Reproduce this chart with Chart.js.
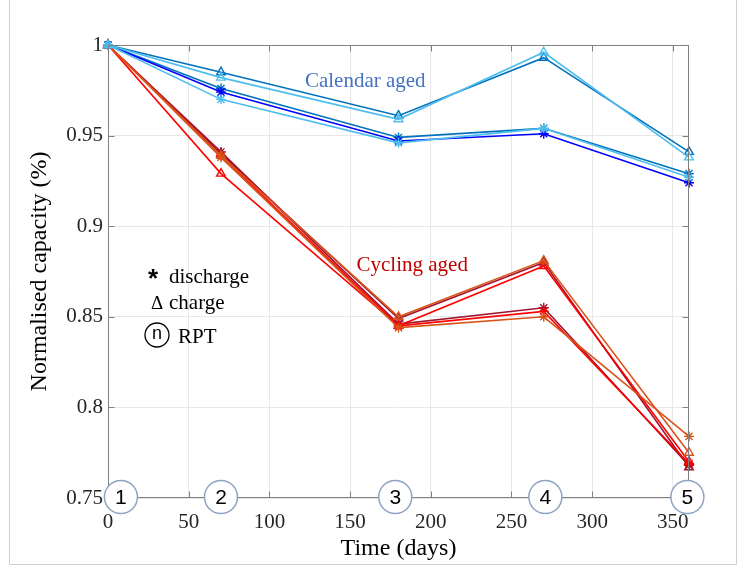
<!DOCTYPE html>
<html><head><meta charset="utf-8">
<script src="https://cdn.jsdelivr.net/npm/chart.js@4.4.1/dist/chart.umd.min.js"></script>
<style>html,body{margin:0;padding:0;background:#fff}#wrap{width:747px;height:570px;position:relative}</style>
</head><body><div id="wrap"><canvas id="c" width="747" height="570"></canvas></div>
<script>
// ---- data ----
const days = [0, 70, 180, 270, 360];
const xTicks = [0, 50, 100, 150, 200, 250, 300, 350];
const yTicks = [0.75, 0.8, 0.85, 0.9, 0.95, 1];
const yTickLabels = ['0.75', '0.8', '0.85', '0.9', '0.95', '1'];
const rptDays = [8, 70, 178, 271, 359];
const rptLabels = ['1', '2', '3', '4', '5'];

// calendar aged
const calCharge1 = [1, 0.985, 0.961, 0.993, 0.941];
const calCharge2 = [1, 0.982, 0.959, 0.996, 0.938];
const calDis1 = [1, 0.976, 0.949, 0.954, 0.929];
const calDis2 = [1, 0.974, 0.947, 0.951, 0.924];
const calDis3 = [1, 0.970, 0.946, 0.954, 0.927];
// cycling aged
const cycCharge1 = [1, 0.939, 0.850, 0.881, 0.775];
const cycCharge2 = [1, 0.929, 0.845, 0.878, 0.770];
const cycCharge3 = [1, 0.940, 0.849, 0.880, 0.767];
const cycDis1 = [1, 0.941, 0.846, 0.855, 0.768];
const cycDis2 = [1, 0.939, 0.845, 0.853, 0.769];
const cycDis3 = [1, 0.938, 0.844, 0.850, 0.784];

const textNotes = [
  {text: 'Calendar aged', day: 122, val: 0.9768, color: '#4472C4'},
  {text: 'Cycling aged', day: 154, val: 0.8753, color: '#C00000'}
];

const SERIF = "'Liberation Serif','Times New Roman',serif";
const SANS = "'Liberation Sans',Arial,sans-serif";

function ds(arr, color, style) {
  return {
    data: days.map((d, i) => ({x: d, y: arr[i]})),
    borderColor: color,
    backgroundColor: 'rgba(0,0,0,0)',
    pointBorderColor: color,
    pointBackgroundColor: 'rgba(0,0,0,0)',
    pointStyle: style,
    pointRadius: 5,
    pointBorderWidth: 1.4,
    borderWidth: 1.6,
    tension: 0,
    clip: false
  };
}

const datasets = [
  ds(calCharge2, '#4DBEEE', 'triangle'),
  ds(calDis3, '#4DBEEE', 'star'),
  ds(calDis2, '#0000FF', 'star'),
  ds(calDis1, '#0072BD', 'star'),
  ds(calCharge1, '#0072BD', 'triangle'),
  ds(cycDis3, '#D95319', 'star'),
  ds(cycCharge1, '#D95319', 'triangle'),
  ds(cycCharge2, '#FF0000', 'triangle'),
  ds(cycDis2, '#FF0000', 'star'),
  ds(cycCharge3, '#A2142F', 'triangle'),
  ds(cycDis1, '#A2142F', 'star')
];

function line(ctx, x1, y1, x2, y2) {
  ctx.beginPath(); ctx.moveTo(x1, y1); ctx.lineTo(x2, y2); ctx.stroke();
}

const overlay = {
  id: 'overlay',
  afterDatasetsDraw(chart) {
    const {ctx, chartArea: a, scales: {x, y}} = chart;
    ctx.save();
    // axes box
    ctx.strokeStyle = '#808080'; ctx.lineWidth = 1;
    const L = Math.round(a.left) + 0.5, R = Math.round(a.right) - 0.5;
    const T = Math.round(a.top) + 0.5, B = Math.round(a.bottom) - 0.5;
    ctx.strokeRect(L, T, R - L, B - T);
    // inward ticks
    xTicks.forEach(v => {
      const px = Math.round(x.getPixelForValue(v)) + 0.5;
      line(ctx, px, B, px, B - 6); line(ctx, px, T, px, T + 6);
    });
    yTicks.forEach(v => {
      const py = Math.round(y.getPixelForValue(v)) + 0.5;
      line(ctx, L, py, L + 6, py); line(ctx, R, py, R - 6, py);
    });
    // RPT circles
    const cy = y.getPixelForValue(0.75) - 1;
    rptDays.forEach((d, i) => {
      const cx = x.getPixelForValue(d);
      ctx.beginPath(); ctx.arc(cx, cy, 16.5, 0, Math.PI * 2);
      ctx.fillStyle = '#fff'; ctx.fill();
      ctx.strokeStyle = '#8FA3C4'; ctx.lineWidth = 1.5; ctx.stroke();
      ctx.fillStyle = '#000'; ctx.font = '21px ' + SANS;
      ctx.textAlign = 'center'; ctx.textBaseline = 'middle';
      ctx.fillText(rptLabels[i], cx, cy + 1);
    });
    // annotations
    ctx.textAlign = 'left'; ctx.textBaseline = 'alphabetic';
    ctx.font = '21px ' + SERIF;
    textNotes.forEach(n => {
      ctx.fillStyle = n.color;
      ctx.fillText(n.text, x.getPixelForValue(n.day), y.getPixelForValue(n.val));
    });
    // marker key
    ctx.fillStyle = '#000';
    ctx.font = 'bold 26px ' + SANS;
    ctx.fillText('*', 148, 287);
    ctx.font = '21px ' + SERIF;
    ctx.fillText('discharge', 169, 283);
    ctx.font = '19px ' + SERIF;
    ctx.fillText('\u0394', 151, 309);
    ctx.font = '21px ' + SERIF;
    ctx.fillText('charge', 169, 309);
    ctx.beginPath(); ctx.arc(157, 335, 12, 0, Math.PI * 2);
    ctx.strokeStyle = '#000'; ctx.lineWidth = 1.3; ctx.stroke();
    ctx.font = '18px ' + SANS; ctx.textAlign = 'center'; ctx.textBaseline = 'middle';
    ctx.fillText('n', 157, 334);
    ctx.textAlign = 'left'; ctx.textBaseline = 'alphabetic';
    ctx.font = '21px ' + SERIF;
    ctx.fillText('RPT', 178, 343);
    // outer frame
    ctx.strokeStyle = '#cfcfcf'; ctx.lineWidth = 1;
    line(ctx, 9.5, 0, 9.5, 564.5);
    line(ctx, 9.5, 564.5, 736.5, 564.5);
    line(ctx, 736.5, 0, 736.5, 564.5);
    ctx.restore();
  }
};

new Chart(document.getElementById('c'), {
  type: 'line',
  data: {datasets},
  options: {
    responsive: false,
    animation: false,
    layout: {padding: {left: 0, right: 58, top: 45, bottom: 0}},
    plugins: {legend: {display: false}, tooltip: {enabled: false}},
    scales: {
      x: {
        type: 'linear', min: 0, max: 360,
        afterBuildTicks: s => { s.ticks = xTicks.map(v => ({value: v})); },
        afterFit: s => { s.height = 72; },
        grid: {color: '#e8e8e8', drawTicks: false},
        border: {display: false},
        ticks: {font: {family: SERIF, size: 21}, color: '#262626', padding: 12, autoSkip: false, maxRotation: 0},
        title: {display: true, text: 'Time (days)', color: '#000', font: {family: SERIF, size: 24}, padding: {top: 0, bottom: 7}}
      },
      y: {
        type: 'linear', min: 0.75, max: 1,
        afterBuildTicks: s => { s.ticks = yTicks.map(v => ({value: v})); },
        afterFit: s => { s.width = 108; },
        grid: {color: '#e8e8e8', drawTicks: false},
        border: {display: false},
        ticks: {font: {family: SERIF, size: 21}, color: '#262626', padding: 5,
          callback: (v, i) => yTickLabels[i]},
        title: {display: true, text: 'Normalised capacity (%)', color: '#000', font: {family: SERIF, size: 24}, padding: {top: 25, bottom: 0}}
      }
    }
  },
  plugins: [overlay]
});
</script>
</body></html>
